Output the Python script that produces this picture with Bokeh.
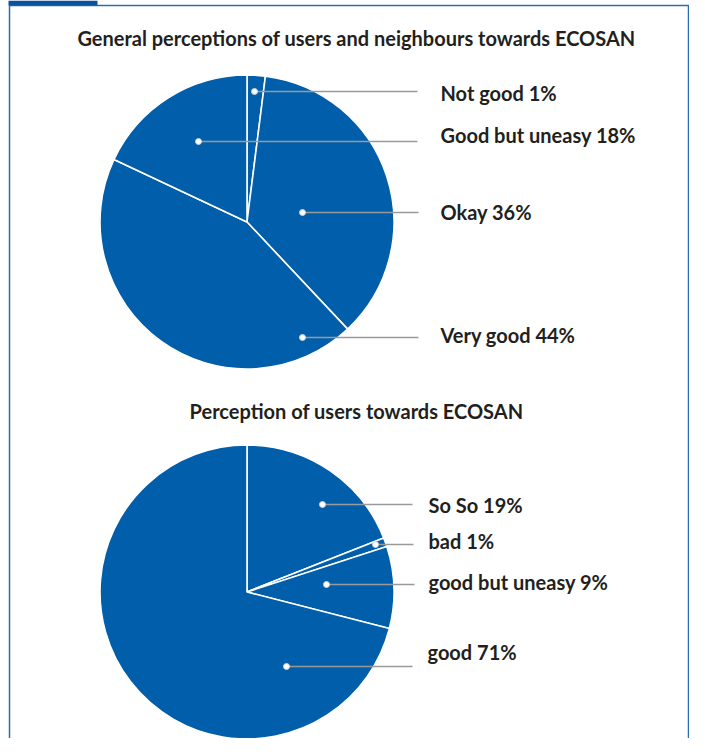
import math
from bokeh.plotting import figure
from bokeh.models import Range1d
from bokeh.core.properties import value
from bokeh.embed import file_html
from bokeh.resources import INLINE

# ---- data ----
title1 = "General perceptions of users and neighbours towards ECOSAN"
pie1_cats = ["Not good", "Okay", "Very good", "Good but uneasy"]   # clockwise from 12 o'clock
pie1_vals = [2, 36, 44, 18]                                        # slice sizes
pie1_pct = [1, 36, 44, 18]                                         # printed percentages

title2 = "Perception of users towards ECOSAN"
pie2_cats = ["So So", "bad", "good but uneasy", "good"]
pie2_vals = [19, 1, 9, 71]
pie2_pct = [19, 1, 9, 71]

# ---- layout (pixel coordinates of the picture) ----
W, H = 689, 738
BLUE = "#005EAA"
TXT = "#231F20"
FONT = "Lato"

def Y(py):
    return H - py

p = figure(width=W, height=H, output_backend="svg", toolbar_location=None,
           x_range=Range1d(0, W), y_range=Range1d(0, H),
           min_border=0, outline_line_color=None)
p.axis.visible = False
p.grid.visible = False
p.background_fill_color = "white"
p.border_fill_color = "white"

# frame
p.line([9, 9, 688, 688], [Y(760), Y(5), Y(5), Y(760)], line_color="#2a6db5", line_width=1.5)
p.quad(left=[8], right=[97], bottom=[Y(5)], top=[Y(0)], fill_color="#0a52a0", line_color=None)

def pie(cx, cy, r, vals, cats, pct, dot_x, line_y, line_end, text_x, text_y, title, title_y):
    total = float(sum(vals))
    cum = 0.0
    starts, ends = [], []
    for v in vals:
        a0 = math.pi / 2 - 2 * math.pi * cum / total
        cum += v
        a1 = math.pi / 2 - 2 * math.pi * cum / total
        starts.append(a1)
        ends.append(a0)
    p.wedge(x=[cx] * len(vals), y=[Y(cy)] * len(vals), radius=r,
            start_angle=starts, end_angle=ends,
            fill_color=BLUE, line_color="white", line_width=1.6)
    for i in range(len(vals)):
        p.line([dot_x[i], line_end[i]], [Y(line_y[i]), Y(line_y[i])],
               line_color="#9a9a9a", line_width=1.6)
    p.scatter(x=dot_x, y=[Y(v) for v in line_y], size=6, fill_color="white",
              line_color="#d0d0d0", line_width=1)
    labels = [f"{c} {v}%" for c, v in zip(cats, pct)]
    p.text(x=text_x, y=[Y(v) for v in text_y], text=labels,
           text_font=value(FONT), text_font_style="bold", text_font_size="20px",
           text_color=TXT, text_align="left", text_baseline="middle")
    p.text(x=[356], y=[Y(title_y)], text=[title],
           text_font=value(FONT), text_font_style="bold", text_font_size="20px",
           text_color=TXT, text_align="center", text_baseline="middle")

pie(246.5, 221.5, 147, pie1_vals, pie1_cats, pie1_pct,
    dot_x=[254, 302, 302, 198], line_y=[91, 212, 337, 141], line_end=[417, 418, 418, 417],
    text_x=[440, 440, 440, 440], text_y=[92, 211, 334, 134],
    title=title1, title_y=37)

pie(246.5, 591.5, 147, pie2_vals, pie2_cats, pie2_pct,
    dot_x=[322, 375, 326, 286], line_y=[504, 544, 584, 666], line_end=[412, 413, 414, 412],
    text_x=[428, 428, 428, 427], text_y=[504, 540, 581, 651],
    title=title2, title_y=410)

open("out.html", "w").write(file_html(p, INLINE))
